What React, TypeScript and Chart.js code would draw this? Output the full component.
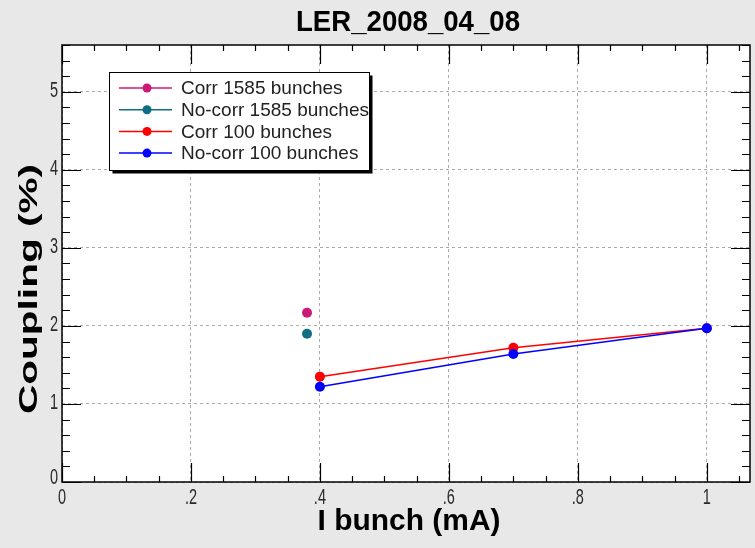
import React, { useEffect, useRef } from "react";
import { Chart, registerables } from "chart.js";

Chart.register(...registerables);

// ---- data ----
const chartTitle = "LER_2008_04_08";
const xAxisTitle = "I bunch (mA)";
const yAxisTitle = "Coupling (%)";

const seriesLabels = ["Corr 1585 bunches", "No-corr 1585 bunches", "Corr 100 bunches", "No-corr 100 bunches"];
const seriesColors = ["#cc1978", "#0f6e82", "#ff0000", "#0000ff"];

const corr1585X = [0.38];
const corr1585Y = [2.17];
const noCorr1585X = [0.38];
const noCorr1585Y = [1.9];
const corr100X = [0.4, 0.7, 1.0];
const corr100Y = [1.35, 1.72, 1.97];
const noCorr100X = [0.4, 0.7, 1.0];
const noCorr100Y = [1.22, 1.64, 1.97];

const xTickValues = [0, 0.2, 0.4, 0.6, 0.8, 1];
const xTickLabels = ["0", ".2", ".4", ".6", ".8", "1"];
const yTickValues = [0, 1, 2, 3, 4, 5];
const yTickLabels = ["0", "1", "2", "3", "4", "5"];
const xMin = 0, xMax = 1.067, xMinorStep = 0.05;
const yMin = 0, yMax = 5.6, yMinorStep = 0.2;

const pts = (xs: number[], ys: number[]) => xs.map((x, i) => ({ x, y: ys[i] }));

function drawFitted(
  ctx: CanvasRenderingContext2D, text: string, cx: number, cy: number,
  targetW: number, font: string, rotate = false
) {
  ctx.save();
  ctx.font = font;
  const w = ctx.measureText(text).width;
  ctx.translate(cx, cy);
  if (rotate) ctx.rotate(-Math.PI / 2);
  ctx.scale(targetW / w, 1);
  ctx.textAlign = "center";
  ctx.textBaseline = "middle";
  ctx.fillStyle = "#000";
  ctx.fillText(text, 0, 0);
  ctx.restore();
}

function drawNarrow(
  ctx: CanvasRenderingContext2D, text: string, x: number, y: number,
  align: CanvasTextAlign, baseline: CanvasTextBaseline, sx: number
) {
  ctx.save();
  ctx.font = "22px 'Liberation Sans', sans-serif";
  ctx.fillStyle = "#2a2a2a";
  ctx.translate(x, y);
  ctx.scale(sx, 1);
  ctx.textAlign = align;
  ctx.textBaseline = baseline;
  ctx.fillText(text, 0, 0);
  ctx.restore();
}

const decorPlugin = {
  id: "decor",
  beforeDraw(chart: any) {
    const { ctx, chartArea: a } = chart;
    ctx.save();
    ctx.fillStyle = "#e8e8e8";
    ctx.fillRect(0, 0, chart.width, chart.height);
    ctx.fillStyle = "#ffffff";
    ctx.fillRect(a.left, a.top, a.right - a.left, a.bottom - a.top);
    ctx.restore();
  },
  afterDraw(chart: any) {
    const { ctx, chartArea: a, scales } = chart;
    const xs = scales.x, ys = scales.y;
    ctx.save();
    ctx.strokeStyle = "#000";
    ctx.lineWidth = 1.5;
    ctx.strokeRect(a.left, a.top, a.right - a.left, a.bottom - a.top);
    ctx.lineWidth = 1.2;
    ctx.beginPath();
    const major = 19, minor = 6;
    for (let v = xMin; v <= xMax + 1e-9; v += xMinorStep) {
      const isMajor = xTickValues.some((t) => Math.abs(t - v) < 1e-6);
      const len = isMajor ? major : minor;
      const px = Math.round(xs.getPixelForValue(v)) + 0.5;
      ctx.moveTo(px, a.bottom); ctx.lineTo(px, a.bottom - len);
      ctx.moveTo(px, a.top); ctx.lineTo(px, a.top + len);
    }
    for (let v = yMin; v <= yMax + 1e-9; v += yMinorStep) {
      const isMajor = yTickValues.some((t) => Math.abs(t - v) < 1e-6);
      const len = isMajor ? major : minor + 2;
      const py = Math.round(ys.getPixelForValue(v)) + 0.5;
      ctx.moveTo(a.left, py); ctx.lineTo(a.left + len, py);
      ctx.moveTo(a.right, py); ctx.lineTo(a.right - len, py);
    }
    ctx.stroke();
    ctx.restore();

    // tick labels (narrow face)
    xTickValues.forEach((v, i) => {
      drawNarrow(ctx, xTickLabels[i], xs.getPixelForValue(v), a.bottom + 5, "center", "top", 0.66);
    });
    yTickValues.forEach((v, i) => {
      const py = ys.getPixelForValue(v) - (i === 0 ? 4 : 1);
      drawNarrow(ctx, yTickLabels[i], a.left - 4, py, "right", "middle", 0.66);
    });

    drawFitted(ctx, chartTitle, 408, 23, 224, "bold 30px 'Liberation Sans', sans-serif");
    drawFitted(ctx, xAxisTitle, 409, 522, 183, "bold 30px 'Liberation Sans', sans-serif");
    drawFitted(ctx, yAxisTitle, 30, 289, 250, "bold 26px 'Liberation Sans', sans-serif", true);

    const bx = 109.5, by = 72.5, bw = 260, bh = 98;
    ctx.save();
    ctx.fillStyle = "#000";
    ctx.fillRect(bx + 3, by + 3, bw, bh);
    ctx.fillStyle = "#fff";
    ctx.fillRect(bx, by, bw, bh);
    ctx.strokeStyle = "#000";
    ctx.lineWidth = 1;
    ctx.strokeRect(bx, by, bw, bh);
    const rowY0 = 88, rowDy = 21.7;
    chart.data.datasets.forEach((ds: any, i: number) => {
      const y = rowY0 + i * rowDy;
      ctx.strokeStyle = ds.borderColor;
      ctx.lineWidth = 1.5;
      ctx.beginPath();
      ctx.moveTo(119, y); ctx.lineTo(172, y);
      ctx.stroke();
      ctx.fillStyle = ds.backgroundColor;
      ctx.beginPath();
      ctx.arc(147, y, 4.5, 0, Math.PI * 2);
      ctx.fill();
      ctx.fillStyle = "#222";
      ctx.font = "19px 'Liberation Sans', sans-serif";
      ctx.textAlign = "left";
      ctx.textBaseline = "middle";
      ctx.fillText(ds.label, 181, y + 1);
    });
    ctx.restore();
  },
};

export default function App() {
  const ref = useRef<HTMLCanvasElement>(null);
  useEffect(() => {
    document.body.style.margin = "0";
    const canvas = ref.current!;
    const mk = (i: number, data: any[], showLine: boolean, order: number) => ({
      label: seriesLabels[i],
      data,
      borderColor: seriesColors[i],
      backgroundColor: seriesColors[i],
      pointBackgroundColor: seriesColors[i],
      pointBorderWidth: 0,
      pointRadius: 5,
      borderWidth: 1.5,
      showLine,
      order,
    });
    const chart = new Chart(canvas, {
      type: "scatter",
      data: {
        datasets: [
          mk(0, pts(corr1585X, corr1585Y), false, 3),
          mk(1, pts(noCorr1585X, noCorr1585Y), false, 2),
          mk(2, pts(corr100X, corr100Y), true, 1),
          mk(3, pts(noCorr100X, noCorr100Y), true, 0),
        ],
      },
      plugins: [decorPlugin],
      options: {
        animation: false,
        responsive: false,
        devicePixelRatio: 1,
        layout: { padding: { top: 45, left: 0, right: 2, bottom: 0 } },
        plugins: { legend: { display: false }, title: { display: false }, tooltip: { enabled: false } },
        scales: {
          x: {
            type: "linear",
            min: xMin,
            max: xMax,
            afterFit: (s: any) => { s.height = 66; },
            afterBuildTicks: (s: any) => { s.ticks = xTickValues.map((v) => ({ value: v })); },
            ticks: { display: false, autoSkip: false },
            grid: { color: "#aaaaaa", lineWidth: 1, drawTicks: false },
            border: { display: false, dash: [3, 3] },
          },
          y: {
            type: "linear",
            min: yMin,
            max: yMax,
            afterFit: (s: any) => { s.width = 62; },
            afterBuildTicks: (s: any) => { s.ticks = yTickValues.map((v) => ({ value: v })); },
            ticks: { display: false, autoSkip: false },
            grid: { color: "#aaaaaa", lineWidth: 1, drawTicks: false },
            border: { display: false, dash: [3, 3] },
          },
        },
      },
    } as any);
    return () => chart.destroy();
  }, []);
  return (
    <div style={{ width: 755, height: 548 }}>
      <canvas ref={ref} width={755} height={548} style={{ display: "block" }} />
    </div>
  );
}
